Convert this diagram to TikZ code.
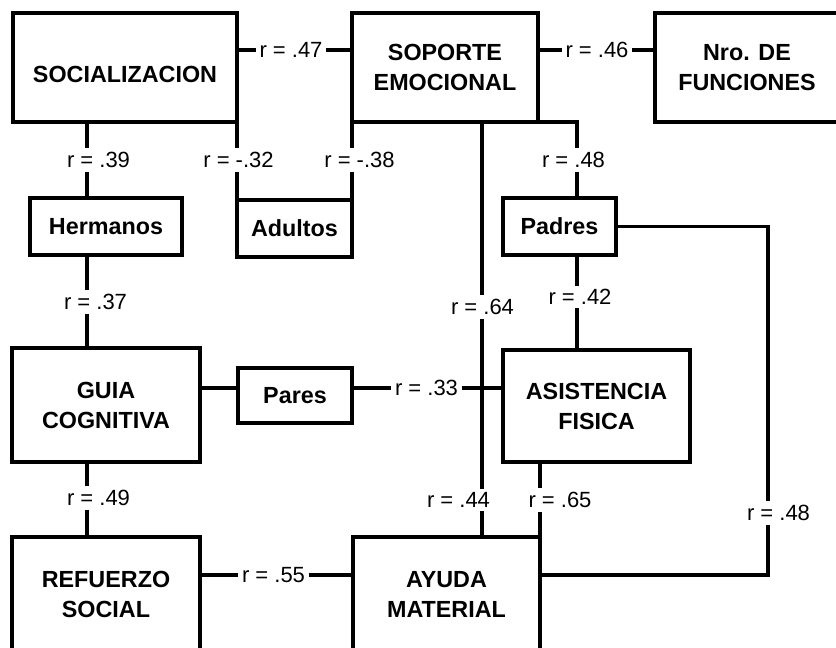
\documentclass[tikz,border=0pt]{standalone}
\usepackage{fontspec}
\setmainfont{Liberation Sans}
\begin{document}
\begin{tikzpicture}[x=0.75pt,y=-0.75pt,line width=2.6pt,
  box/.style 2 args={draw, rectangle, inner sep=0pt, outer sep=0pt, minimum width={#1*0.75pt}, minimum height={#2*0.75pt}, font=\bfseries\fontsize{17.5}{22.5}\selectfont},
  mbox/.style 2 args={box={#1}{#2}, align=center},
  rlab/.style={inner sep=1.5pt, font=\fontsize{16.5}{19}\selectfont}]
\useasboundingbox (0,0) rectangle (836,647);
\fill[white] (0,0) rectangle (836,647);
% boxes
\node[box={224}{109}, text height=23pt, text depth=0pt] (soc) at (125,67.5) {SOCIALIZACION};
\node[mbox={186}{109}] (sop) at (445,67.5) {SOPORTE\\EMOCIONAL};
\node[mbox={184}{109}] (nro) at (747,67.5) {Nro. DE\\FUNCIONES};
\node[box={152}{57}] (herm) at (106,226.5) {Hermanos};
\node[box={115}{57}] (adul) at (294.5,228.5) {Adultos};
\node[box={113}{57}] (padr) at (559.5,226.5) {Padres};
\node[mbox={188}{114}] (guia) at (106,405) {GUIA\\COGNITIVA};
\node[box={114}{55}] (pares) at (295,395.5) {Pares};
\node[mbox={187}{112}] (asis) at (596.5,406) {ASISTENCIA\\FISICA};
\node[mbox={188}{115}] (ref) at (106,594.5) {REFUERZO\\SOCIAL};
\node[mbox={187}{115}] (ayuda) at (446.5,594.5) {AYUDA\\MATERIAL};
% labels
\node[rlab] (l47) at (291,50) {r = .47};
\node[rlab] (l46) at (597,50) {r = .46};
\node[rlab] (l39) at (98.5,160) {r = .39};
\node[rlab] (l32) at (238.5,160) {r = -.32};
\node[rlab] (l38) at (359.5,160) {r = -.38};
\node[rlab] (l48a) at (573.5,160) {r = .48};
\node[rlab] (l37) at (95.5,302) {r = .37};
\node[rlab] (l64) at (482.5,307) {r = .64};
\node[rlab] (l42) at (580,297) {r = .42};
\node[rlab] (l33) at (426.5,388) {r = .33};
\node[rlab] (l44) at (458.5,500) {r = .44};
\node[rlab] (l65) at (560,500) {r = .65};
\node[rlab] (l48b) at (778.5,513) {r = .48};
\node[rlab] (l49) at (98.5,498) {r = .49};
\node[rlab] (l55) at (273.5,575) {r = .55};
% helper coordinates
\coordinate (cL) at (87,0);
\coordinate (cM) at (482,0);
\coordinate (cP) at (577,0);
\coordinate (cR) at (768,0);
\coordinate (cB) at (0,575);
% connectors
\draw (soc.east |- l47) -- (l47.west);
\draw (l47.east) -- (sop.west |- l47);
\draw (sop.east |- l46) -- (l46.west);
\draw (l46.east) -- (nro.west |- l46);
\draw (soc.south -| cL) -- (l39.north -| cL);
\draw (l39.south -| cL) -- (herm.north -| cL);
\draw (soc.south east) -- (l32.north -| soc.south east);
\draw (l32.south -| soc.south east) -- (adul.north west);
\draw (sop.south west) -- (l38.north -| sop.south west);
\draw (l38.south -| sop.south west) -- (adul.north east);
\draw (sop.south east) -- (sop.south east -| cP) -- (l48a.north -| cP);
\draw (l48a.south -| cP) -- (padr.north -| cP);
\draw (herm.south -| cL) -- (l37.north -| cL);
\draw (l37.south -| cL) -- (guia.north -| cL);
\draw (sop.south -| cM) -- (l64.north -| cM);
\draw (l64.south -| cM) -- (l44.north -| cM);
\draw (l44.south -| cM) -- (ayuda.north -| cM);
\draw (padr.south -| cP) -- (l42.north -| cP);
\draw (l42.south -| cP) -- (asis.north -| cP);
\draw (guia.east |- l33) -- (pares.west |- l33);
\draw (pares.east |- l33) -- (l33.west);
\draw (l33.east) -- (asis.west |- l33);
\draw (padr.east) -- (padr.east -| cR) -- (l48b.north -| cR);
\draw (l48b.south -| cR) -- (cR |- cB) -- (ayuda.east |- cB);
\draw (guia.south -| cL) -- (l49.north -| cL);
\draw (l49.south -| cL) -- (ref.north -| cL);
\draw (ref.east |- l55) -- (l55.west);
\draw (l55.east) -- (ayuda.west |- l55);
\draw (asis.south -| ayuda.north east) -- (l65.north -| ayuda.north east);
\draw (l65.south -| ayuda.north east) -- (ayuda.north east);
\end{tikzpicture}
\end{document}
